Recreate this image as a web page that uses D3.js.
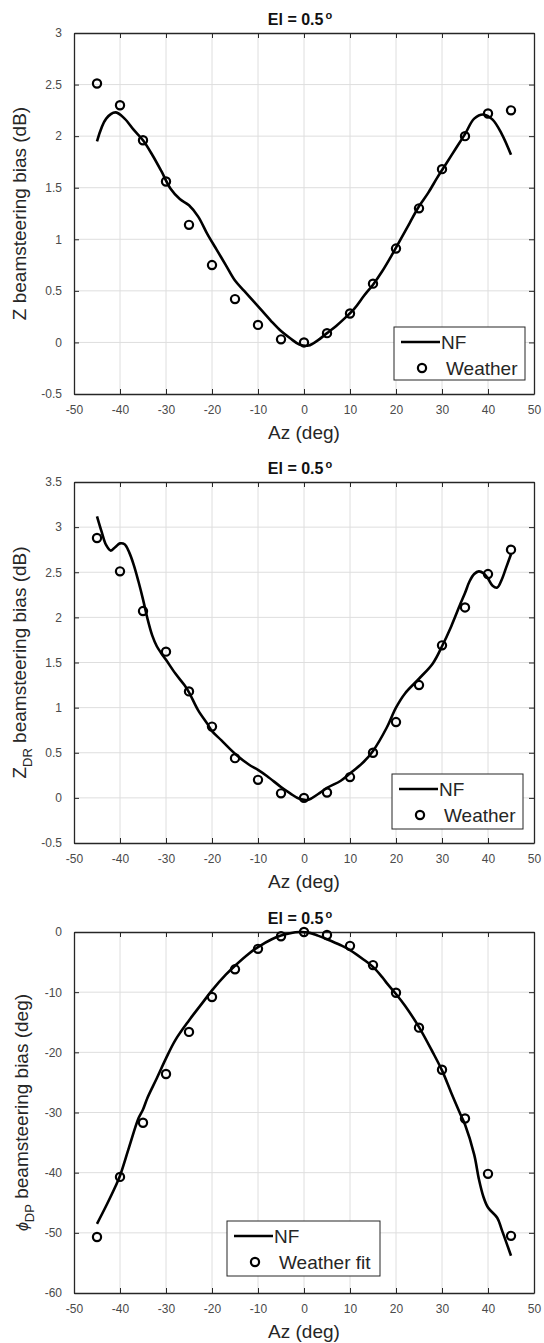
<!DOCTYPE html>
<html>
<head>
<meta charset="utf-8">
<script src="https://cdn.jsdelivr.net/npm/d3@7"></script>
<style>
  body { margin: 0; background: #fff; }
  svg text { font-family: "Liberation Sans", Arial, sans-serif; }
  .tick text { fill: #4a4a4a; font-size: 12px; }
  .axis path, .axis line { stroke: #262626; }
</style>
</head>
<body>
<div id="chart"></div>
<script>

// azimuths of the weather estimates (deg)
const weatherAz = [-45, -40, -35, -30, -25, -20, -15, -10, -5, 0, 5, 10, 15, 20, 25, 30, 35, 40, 45];

// Z beamsteering bias (dB)
const zWeather = [2.51, 2.30, 1.96, 1.56, 1.14, 0.75, 0.42, 0.17, 0.03, 0.0, 0.09, 0.28, 0.57, 0.91, 1.30, 1.68, 2.00, 2.22, 2.25];
const zNfAz = [-45, -43, -41, -39, -37, -35, -33, -31, -29, -27, -25, -23, -21, -19, -17, -15, -13, -11, -9, -7, -5, -3, -1, 1, 3, 5, 7, 9, 11, 13, 15, 17, 19, 21, 23, 25, 27, 29, 31, 33, 35, 37, 39, 41, 43, 45];
const zNf = [1.95, 2.17, 2.23, 2.17, 2.06, 1.96, 1.82, 1.66, 1.49, 1.39, 1.33, 1.22, 1.05, 0.90, 0.75, 0.60, 0.50, 0.40, 0.30, 0.20, 0.11, 0.04, -0.02, -0.03, 0.02, 0.09, 0.16, 0.24, 0.33, 0.45, 0.56, 0.69, 0.84, 1.00, 1.16, 1.32, 1.45, 1.60, 1.74, 1.88, 2.02, 2.17, 2.21, 2.16, 2.02, 1.82];

// ZDR beamsteering bias (dB)
const zdrWeather = [2.88, 2.51, 2.07, 1.62, 1.18, 0.79, 0.44, 0.20, 0.05, 0.0, 0.06, 0.23, 0.50, 0.84, 1.25, 1.69, 2.11, 2.48, 2.75];
const zdrNfAz = [-45, -44, -43, -42, -41, -40, -39, -38, -37, -36, -35, -34, -33, -32, -31, -30, -28, -26, -25, -23, -21, -20, -18, -15, -12, -10, -8, -5, -3, -1, 1, 3, 5, 8, 10, 13, 15, 18, 20, 22, 25, 28, 30, 32, 34, 35, 36, 37, 38, 39, 40, 41, 42, 43, 44, 45];
const zdrNf = [3.12, 2.95, 2.80, 2.74, 2.78, 2.82, 2.81, 2.72, 2.58, 2.40, 2.20, 1.98, 1.80, 1.68, 1.60, 1.53, 1.38, 1.25, 1.17, 0.97, 0.82, 0.74, 0.64, 0.49, 0.37, 0.31, 0.24, 0.12, 0.05, -0.01, -0.02, 0.04, 0.11, 0.19, 0.27, 0.40, 0.52, 0.78, 1.00, 1.16, 1.32, 1.49, 1.68, 1.90, 2.15, 2.27, 2.40, 2.48, 2.51, 2.49, 2.43, 2.35, 2.33, 2.42, 2.56, 2.70];

// PhiDP beamsteering bias (deg)
const phiWeather = [-50.7, -40.7, -31.7, -23.6, -16.6, -10.8, -6.2, -2.8, -0.7, 0.0, -0.5, -2.3, -5.5, -10.1, -15.9, -22.9, -31.0, -40.2, -50.5];
const phiNfAz = [-45, -43, -41, -40, -38, -36, -35, -34, -32, -30, -28, -25, -22, -20, -17, -15, -12, -10, -7, -5, -3, -1, 1, 3, 5, 8, 10, 13, 15, 17, 18, 20, 22, 25, 28, 30, 32, 34, 35, 37, 38, 39, 40, 42, 43, 45];
const phiNf = [-48.5, -45.5, -42.3, -40.5, -35.7, -31.0, -29.5, -27.5, -24.3, -21.0, -18.0, -14.7, -11.7, -9.7, -7.1, -5.6, -3.6, -2.5, -1.2, -0.6, -0.2, 0.0, -0.1, -0.6, -1.2, -2.2, -3.0, -4.6, -5.8, -7.5, -8.5, -10.3, -12.3, -15.8, -20.0, -23.0, -26.7, -30.3, -32.0, -37.0, -41.0, -44.0, -45.8, -47.5, -49.5, -53.8];

// tick labels
const azTicks = [-50, -40, -30, -20, -10, 0, 10, 20, 30, 40, 50];
const zTicks = [-0.5, 0, 0.5, 1, 1.5, 2, 2.5, 3];
const zdrTicks = [-0.5, 0, 0.5, 1, 1.5, 2, 2.5, 3, 3.5];
const phiTicks = [-60, -50, -40, -30, -20, -10, 0];

const width = 544, height = 1343;
const left = 74, right = 534;

const svg = d3.select("#chart").append("svg")
	.attr("width", width)
	.attr("height", height);

svg.append("rect").attr("width", width).attr("height", height).attr("fill", "#fff");

const x = d3.scaleLinear().domain([-50, 50]).range([left, right]);

const panels = [
	{top: 33, bottom: 394, ticks: zTicks, nfAz: zNfAz, nf: zNf, weather: zWeather,
		label: [["Z", ""], [" beamsteering bias (dB)", ""]], labelX: 26,
		legend: {x: 394, y: 327, w: 131, h: 53, text: "Weather"}},
	{top: 482, bottom: 843, ticks: zdrTicks, nfAz: zdrNfAz, nf: zdrNf, weather: zdrWeather,
		label: [["Z", ""], ["DR", "sub"], [" beamsteering bias (dB)", ""]], labelX: 26,
		legend: {x: 392, y: 774, w: 131, h: 55, text: "Weather"}},
	{top: 932, bottom: 1293, ticks: phiTicks, nfAz: phiNfAz, nf: phiNf, weather: phiWeather,
		label: [["\u03D5", "phi"], ["DP", "sub"], [" beamsteering bias (deg)", ""]], labelX: 28,
		legend: {x: 227, y: 1221, w: 153, h: 55, text: "Weather fit"}}
];

panels.forEach(p => drawPanel(p));

function drawPanel(p) {
	let g = svg.append("g");

	let y = d3.scaleLinear()
		.domain(d3.extent(p.ticks))
		.range([p.bottom, p.top]);

	// grid
	g.append("g").selectAll("line").data(azTicks.slice(1, -1)).enter().append("line")
		.attr("x1", d => x(d)).attr("x2", d => x(d))
		.attr("y1", p.top).attr("y2", p.bottom)
		.attr("stroke", "#dedede").attr("stroke-width", 1);
	g.append("g").selectAll("line").data(p.ticks.slice(1, -1)).enter().append("line")
		.attr("x1", left).attr("x2", right)
		.attr("y1", d => y(d)).attr("y2", d => y(d))
		.attr("stroke", "#dedede").attr("stroke-width", 1);

	// axes, ticks pointing inwards
	g.append("g").attr("class", "axis")
		.attr("transform", "translate(0," + p.bottom + ")")
		.call(d3.axisBottom(x).tickValues(azTicks).tickFormat(d => String(d))
			.tickSizeInner(-5).tickSizeOuter(0).tickPadding(11));
	g.append("g").attr("class", "axis")
		.attr("transform", "translate(0," + p.top + ")")
		.call(d3.axisTop(x).tickValues(azTicks).tickFormat("")
			.tickSizeInner(-5).tickSizeOuter(0));
	g.append("g").attr("class", "axis")
		.attr("transform", "translate(" + left + ",0)")
		.call(d3.axisLeft(y).tickValues(p.ticks).tickFormat(d => String(d))
			.tickSizeInner(-5).tickSizeOuter(0).tickPadding(12));
	g.append("g").attr("class", "axis")
		.attr("transform", "translate(" + right + ",0)")
		.call(d3.axisRight(y).tickValues(p.ticks).tickFormat("")
			.tickSizeInner(-5).tickSizeOuter(0));
	g.selectAll(".axis path").attr("stroke-width", 1.3);
	g.selectAll(".tick text").attr("font-size", 12);

	// NF curve
	let line = d3.line()
		.x(d => x(d[0]))
		.y(d => y(d[1]))
		.curve(d3.curveCatmullRom.alpha(0.5));
	g.append("path")
		.datum(d3.zip(p.nfAz, p.nf))
		.attr("d", line)
		.attr("fill", "none")
		.attr("stroke", "#000")
		.attr("stroke-width", 2.6);

	// weather points
	g.append("g").selectAll("circle").data(d3.zip(weatherAz, p.weather)).enter().append("circle")
		.attr("cx", d => x(d[0]))
		.attr("cy", d => y(d[1]))
		.attr("r", 4.1)
		.attr("fill", "none")
		.attr("stroke", "#000")
		.attr("stroke-width", 2.2);

	// title
	let title = g.append("text")
		.attr("x", 300)
		.attr("y", p.top - 8)
		.attr("text-anchor", "middle")
		.attr("font-size", 16)
		.attr("font-weight", "bold")
		.attr("fill", "#111")
		.text("El = 0.5");
	title.append("tspan").attr("dx", 2).attr("dy", -6).attr("font-size", 11).text("o");

	// x label
	g.append("text")
		.attr("x", (left + right) / 2)
		.attr("y", p.bottom + 45)
		.attr("text-anchor", "middle")
		.attr("font-size", 19)
		.attr("fill", "#262626")
		.text("Az (deg)");

	// y label
	let yl = g.append("text")
		.attr("transform", "translate(" + p.labelX + "," + (p.top + p.bottom) / 2 + ") rotate(-90)")
		.attr("text-anchor", "middle")
		.attr("font-size", 19)
		.attr("fill", "#262626");
	let shift = 0;
	p.label.forEach(part => {
		let t = yl.append("tspan").text(part[0]);
		if (part[1] === "sub") {
			t.attr("font-size", 13).attr("dy", 6);
			shift = 6;
		} else if (part[1] === "phi") {
			t.attr("font-style", "italic").attr("font-size", 16);
		} else if (shift) {
			t.attr("dy", -shift);
			shift = 0;
		}
	});

	// legend
	let lg = g.append("g").attr("transform", "translate(" + p.legend.x + "," + p.legend.y + ")");
	lg.append("rect")
		.attr("width", p.legend.w).attr("height", p.legend.h)
		.attr("fill", "#fff").attr("stroke", "#262626").attr("stroke-width", 1);
	lg.append("line")
		.attr("x1", 7).attr("x2", 46).attr("y1", 15).attr("y2", 15)
		.attr("stroke", "#000").attr("stroke-width", 2.6);
	lg.append("text").attr("x", 47).attr("y", 15).attr("dy", "0.36em")
		.attr("font-size", 19).attr("fill", "#262626").text("NF");
	lg.append("circle").attr("cx", 28).attr("cy", 41).attr("r", 4.1)
		.attr("fill", "none").attr("stroke", "#000").attr("stroke-width", 2.2);
	lg.append("text").attr("x", 52).attr("y", 41).attr("dy", "0.36em")
		.attr("font-size", 19).attr("fill", "#262626").text(p.legend.text);
}
</script>
</body>
</html>
